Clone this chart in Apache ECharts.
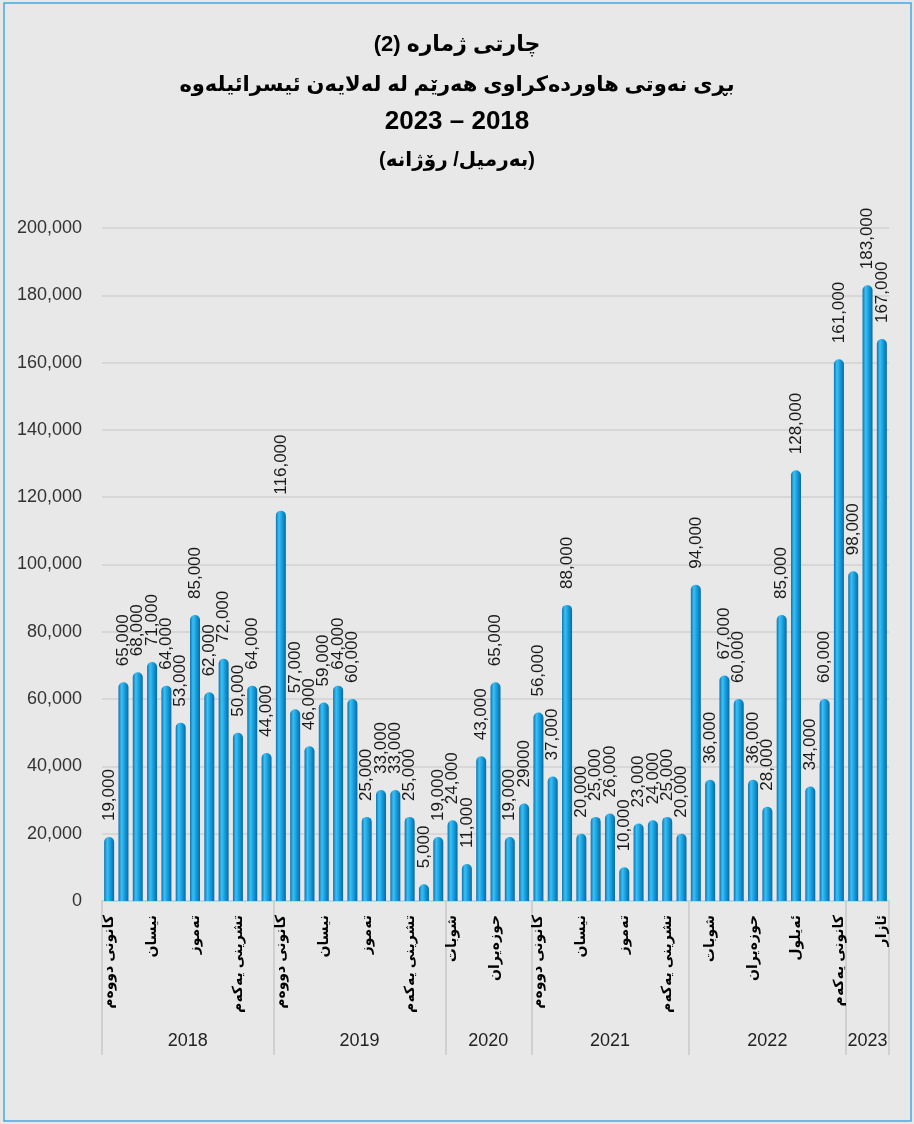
<!DOCTYPE html>
<html>
<head>
<meta charset="utf-8">
<script src="https://cdn.jsdelivr.net/npm/echarts@6/dist/echarts.min.js"></script>
<style>
html,body{margin:0;padding:0;background:#e8e8e8;}
#c{width:914px;height:1124px;}
</style>
</head>
<body>
<div id="c"></div>
<script>
// ---------- data ----------
const years = ['2018', '2019', '2020', '2021', '2022', '2023'];

const months2018 = ['کانونی دووەم','شوبات','ئازار','نیسان','ئایار','حوزەیران','تەموز','ئاب','ئەیلول','تشرینی یەکەم','تشرینی دووەم','کانونی یەکەم'];
const months2019 = ['کانونی دووەم','شوبات','ئازار','نیسان','ئایار','حوزەیران','تەموز','ئاب','ئەیلول','تشرینی یەکەم','تشرینی دووەم','کانونی یەکەم'];
const months2020 = ['شوبات','ئازار','ئایار','حوزەیران','تەموز','ئاب'];
const months2021 = ['کانونی دووەم','شوبات','ئازار','نیسان','ئایار','حوزەیران','تەموز','ئاب','ئەیلول','تشرینی یەکەم','تشرینی دووەم'];
const months2022 = ['کانونی دووەم','شوبات','ئازار','نیسان','حوزەیران','تەموز','ئاب','ئەیلول','تشرینی یەکەم','تشرینی دووەم','کانونی یەکەم'];
const months2023 = ['کانونی دووەم','شوبات','ئازار'];

const values2018 = [19000, 65000, 68000, 71000, 64000, 53000, 85000, 62000, 72000, 50000, 64000, 44000];
const values2019 = [116000, 57000, 46000, 59000, 64000, 60000, 25000, 33000, 33000, 25000, 5000, 19000];
const values2020 = [24000, 11000, 43000, 65000, 19000, 29000];
const values2021 = [56000, 37000, 88000, 20000, 25000, 26000, 10000, 23000, 24000, 25000, 20000];
const values2022 = [94000, 36000, 67000, 60000, 36000, 28000, 85000, 128000, 34000, 60000, 161000];
const values2023 = [98000, 183000, 167000];

const yMin = 0, yMax = 200000, yInterval = 20000;
// the source prints this one label without a thousands separator
const plainLabelIndex = [29];

const titleLines = [
  'چارتی ژمارە (2)',
  'بڕی نەوتی هاوردەکراوی هەرێم لە لەلایەن ئیسرائیلەوە',
  '2023 – 2018',
  '(بەرمیل/ رۆژانە)'
];

// ---------- derived ----------
const monthGroups = [months2018, months2019, months2020, months2021, months2022, months2023];
const valueGroups = [values2018, values2019, values2020, values2021, values2022, values2023];
const monthNames = [].concat(...monthGroups);
const values = [].concat(...valueGroups);
const keys = [];
monthGroups.forEach((g, gi) => g.forEach((m, i) => keys.push(years[gi] + '-' + i)));

// second (year) axis: half-month points, so group edges and centres fall on points
const halfKeys = [];
for (let i = 0; i <= values.length * 2; i++) halfKeys.push('h' + i);
const boundaries = new Set([0]);
const centres = {};
let acc = 0;
monthGroups.forEach((g, gi) => {
  centres[acc * 2 + g.length] = years[gi];
  acc += g.length;
  boundaries.add(acc * 2);
});

const AR = 'Arial, "Liberation Sans", "DejaVu Sans", sans-serif';

const chart = echarts.init(document.getElementById('c'), null, {renderer: 'canvas'});

const titleSpecs = [
  {size: 22, cy: 45},
  {size: 21, cy: 85},
  {size: 26, cy: 122},
  {size: 20, cy: 160}
];

chart.setOption({
  backgroundColor: '#e8e8e8',
  animation: false,
  title: titleLines.map((t, i) => ({
    text: t,
    left: 'center',
    top: titleSpecs[i].cy - titleSpecs[i].size * 0.6,
    padding: 0,
    textStyle: {
      fontFamily: AR,
      fontWeight: 'bold',
      fontSize: titleSpecs[i].size,
      lineHeight: titleSpecs[i].size * 1.2,
      color: '#000'
    }
  })),
  graphic: [{
    type: 'rect',
    shape: {x: 4, y: 3, width: 907, height: 1118},
    style: {fill: 'none', stroke: '#45a8e0', lineWidth: 1.5},
    silent: true
  }],
  grid: {left: 102, right: 25, top: 228, bottom: 223, containLabel: false},
  xAxis: [{
    type: 'category',
    position: 'bottom',
    data: keys,
    axisLine: {show: true, lineStyle: {color: '#d0d0d0', width: 2}},
    axisTick: {show: false},
    axisLabel: {
      interval: 2,
      rotate: 90,
      margin: 14,
      fontFamily: AR,
      fontWeight: 'bold',
      fontSize: 14,
      color: '#000',
      formatter: (v, i) => monthNames[i]
    }
  }, {
    type: 'category',
    position: 'bottom',
    boundaryGap: false,
    data: halfKeys,
    axisLine: {show: false},
    axisTick: {
      show: true,
      length: 154,
      interval: (i) => boundaries.has(i),
      lineStyle: {color: '#d0d0d0', width: 2}
    },
    axisLabel: {
      interval: 0,
      margin: 131,
      fontFamily: AR,
      fontSize: 18,
      color: '#222',
      formatter: (v, i) => centres[i] || ''
    }
  }],
  yAxis: {
    type: 'value',
    min: yMin,
    max: yMax,
    interval: yInterval,
    axisLine: {show: false},
    axisTick: {show: false},
    splitLine: {lineStyle: {color: '#d2d2d2', width: 1.5}},
    axisLabel: {
      margin: 20,
      fontFamily: AR,
      fontSize: 18,
      color: '#333',
      formatter: (v) => v.toLocaleString('en-US')
    }
  },
  series: [{
    type: 'bar',
    xAxisIndex: 0,
    data: values,
    barWidth: 10,
    itemStyle: {
      borderRadius: [5, 5, 0, 0],
      color: new echarts.graphic.LinearGradient(0, 0, 1, 0, [
        {offset: 0, color: '#0a74b0'},
        {offset: 0.3, color: '#3cc0f3'},
        {offset: 0.55, color: '#1aa5e5'},
        {offset: 1, color: '#086aa3'}
      ])
    },
    label: {
      show: true,
      position: 'top',
      rotate: 90,
      align: 'left',
      verticalAlign: 'middle',
      distance: 16,
      fontFamily: AR,
      fontSize: 17,
      color: '#1a1a1a',
      formatter: (p) => plainLabelIndex.includes(p.dataIndex) ? String(p.value) : p.value.toLocaleString('en-US')
    }
  }]
});
</script>
</body>
</html>
